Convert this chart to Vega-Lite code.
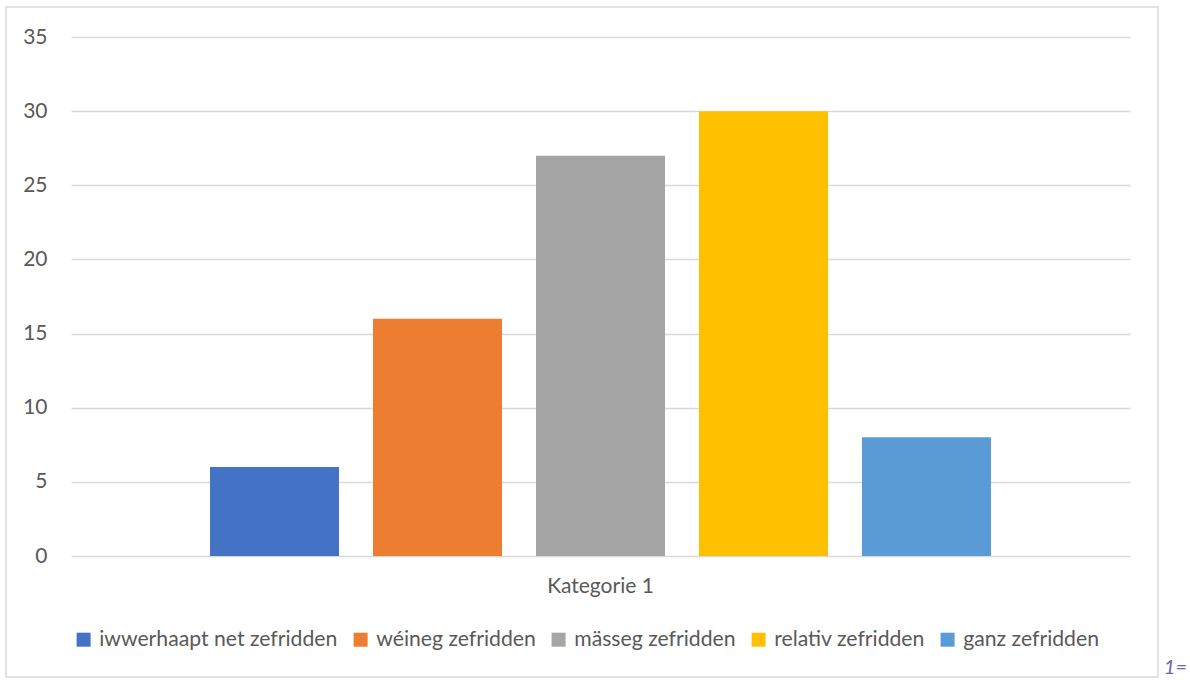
{
  "$schema": "https://vega.github.io/schema/vega-lite/v6.json",
  "autosize": {"type": "none"},
  "padding": {"left": 6, "top": 7, "right": 32, "bottom": 3},
  "width": 1152,
  "height": 670,
  "background": "white",
  "config": {
    "view": {"stroke": "#d9d9d9", "strokeWidth": 1.5},
    "font": "Lato"
  },
  "title": {
    "text": "1=",
    "orient": "bottom",
    "anchor": "end",
    "frame": "group",
    "offset": -19,
    "dx": 29,
    "fontSize": 20,
    "fontStyle": "italic",
    "fontWeight": "normal",
    "color": "#6f63ad",
    "font": "Lato"
  },
  "data": {
    "values": [
      {"category": "Kategorie 1", "series": "iwwerhaapt net zefridden", "value": 6},
      {"category": "Kategorie 1", "series": "wéineg zefridden", "value": 16},
      {"category": "Kategorie 1", "series": "mässeg zefridden", "value": 27},
      {"category": "Kategorie 1", "series": "relativ zefridden", "value": 30},
      {"category": "Kategorie 1", "series": "ganz zefridden", "value": 8}
    ]
  },
  "mark": {"type": "bar"},
  "encoding": {
    "x": {
      "field": "category",
      "type": "nominal",
      "scale": {"range": [65, 1124], "paddingInner": 0, "paddingOuter": 0},
      "axis": {
        "title": null,
        "orient": "bottom",
        "offset": -121,
        "domain": false,
        "ticks": false,
        "grid": false,
        "labelPadding": 19,
        "labelFontSize": 21,
        "labelColor": "#595959",
        "labelAngle": 0
      }
    },
    "xOffset": {
      "field": "series",
      "type": "nominal",
      "sort": ["iwwerhaapt net zefridden", "wéineg zefridden", "mässeg zefridden", "relativ zefridden", "ganz zefridden"],
      "scale": {"paddingInner": 0.2086, "paddingOuter": 0.853}
    },
    "y": {
      "field": "value",
      "type": "quantitative",
      "scale": {"domain": [0, 35], "range": [549, 30], "nice": false},
      "axis": {
        "title": null,
        "values": [0, 5, 10, 15, 20, 25, 30, 35],
        "offset": -41,
        "labelPadding": 0,
        "domain": false,
        "ticks": false,
        "grid": true,
        "gridColor": "#d9d9d9",
        "gridWidth": 1.5,
        "labelFontSize": 21,
        "labelColor": "#595959"
      }
    },
    "color": {
      "field": "series",
      "type": "nominal",
      "sort": ["iwwerhaapt net zefridden", "wéineg zefridden", "mässeg zefridden", "relativ zefridden", "ganz zefridden"],
      "scale": {
        "domain": ["iwwerhaapt net zefridden", "wéineg zefridden", "mässeg zefridden", "relativ zefridden", "ganz zefridden"],
        "range": ["#4472C4", "#ED7D31", "#A5A5A5", "#FFC000", "#5B9BD5"]
      },
      "legend": {
        "title": null,
        "orient": "none",
        "direction": "horizontal",
        "legendX": 67,
        "legendY": 622,
        "symbolType": "square",
        "symbolSize": 196,
        "symbolStrokeWidth": 0,
        "symbolOpacity": 1,
        "labelFontSize": 21.2,
        "labelColor": "#595959",
        "labelOffset": 5,
        "columnPadding": 12,
        "labelLimit": 400
      }
    }
  }
}
